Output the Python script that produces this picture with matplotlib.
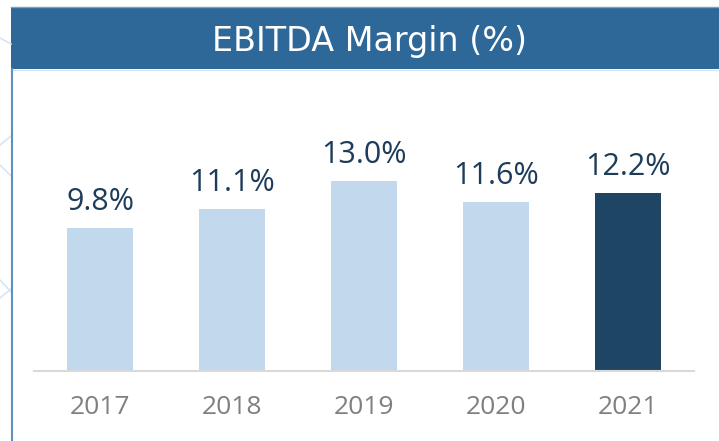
import matplotlib
matplotlib.use("Agg")
import matplotlib.pyplot as plt
from matplotlib.patches import Rectangle
from matplotlib.lines import Line2D

# Data
years = ["2017", "2018", "2019", "2020", "2021"]
margins = [9.8, 11.1, 13.0, 11.6, 12.2]
value_labels = ["9.8%", "11.1%", "13.0%", "11.6%", "12.2%"]
title = "EBITDA Margin (%)"

W, H = 719, 441
fig = plt.figure(figsize=(W / 100, H / 100), dpi=100)
fig.patch.set_facecolor("white")

def fx(px):
    return px / W

def fy(py):
    return (H - py) / H

# decorative faint lines at the far left
deco = [((0, 38), (11, 44)), ((0, 145), (11, 136)), ((0, 165), (11, 176)),
        ((0, 298), (11, 289)), ((0, 280), (11, 292))]
for (x0, y0), (x1, y1) in deco:
    fig.add_artist(Line2D([fx(x0), fx(x1)], [fy(y0), fy(y1)], color="#d6e6f4", lw=1.2))

# title band
fig.add_artist(Rectangle((fx(11), fy(69)), fx(W - 11), (69 - 6.5) / H,
                         facecolor="#2e6899", edgecolor="none"))
fig.add_artist(Line2D([fx(11), fx(W)], [fy(6.5), fy(6.5)], color="#7f9fc0", lw=1.0))
fig.add_artist(Line2D([fx(11), fx(W)], [fy(69.5), fy(69.5)], color="#d4e4f2", lw=0.8))
# left border line
fig.add_artist(Line2D([fx(12), fx(12)], [fy(69), fy(H)], color="#5f8fbf", lw=1.5))

fig.text(fx(370), fy(50.8), title, color="white", fontsize=24,
         family="DejaVu Sans", ha="center", va="baseline")

# axes
ax_left, ax_right = 34, 694
ax_bottom, ax_top = 371, 75
ax = fig.add_axes([fx(ax_left), fy(ax_bottom), fx(ax_right - ax_left), (ax_bottom - ax_top) / H])
ax.set_facecolor("none")

colors = ["#c2d9ed"] * (len(years) - 1) + ["#1f4565"]
x = list(range(len(years)))
bars = ax.bar(x, margins, width=0.5, color=colors, zorder=2)

ax.set_xlim(-0.5, len(years) - 0.5)
ax.set_ylim(0, (ax_bottom - ax_top) / 14.6)

for xi, v, lab in zip(x, margins, value_labels):
    ax.annotate(lab, (xi, v), xytext=(0, 13), textcoords="offset points",
                ha="center", va="baseline", fontsize=22, color="#1d3c5a",
                family="Open Sans")

ax.set_xticks(x)
ax.set_xticklabels(years, fontsize=19, color="#7f7f7f", family="Open Sans")
ax.tick_params(axis="x", length=0, pad=17)
ax.set_yticks([])
for s in ["top", "left", "right"]:
    ax.spines[s].set_visible(False)
ax.spines["bottom"].set_color("#d9d9d9")
ax.spines["bottom"].set_linewidth(1.5)

fig.savefig("out.png", dpi=100)
